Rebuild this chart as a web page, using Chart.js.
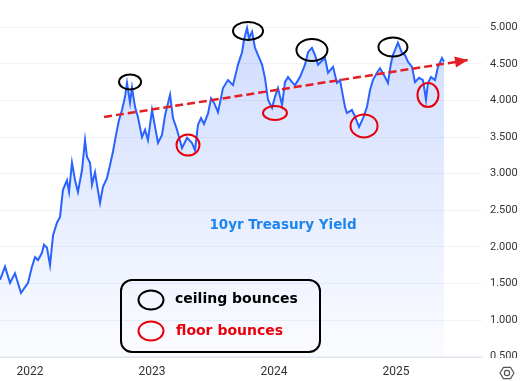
<!DOCTYPE html>
<html><head><meta charset="utf-8">
<script src="https://cdn.jsdelivr.net/npm/chart.js@4"></script>
<style>html,body{margin:0;padding:0;background:#fff}#wrap{width:525px;height:381px;position:relative}canvas{display:block}</style>
</head><body><div id="wrap"><canvas id="c" width="525" height="381"></canvas></div>
<script>
// ---- data (decimal years, yield %) ----
const dates = [2021.754,2021.795,2021.836,2021.877,2021.926,2021.959,2021.984,2022.016,2022.041,2022.066,2022.098,2022.115,2022.139,2022.164,2022.189,2022.221,2022.246,2022.270,2022.303,2022.320,2022.344,2022.369,2022.393,2022.426,2022.451,2022.467,2022.492,2022.508,2022.533,2022.549,2022.574,2022.598,2022.631,2022.656,2022.680,2022.705,2022.729,2022.754,2022.779,2022.795,2022.820,2022.836,2022.861,2022.885,2022.918,2022.943,2022.967,2023.000,2023.025,2023.049,2023.082,2023.107,2023.148,2023.172,2023.205,2023.246,2023.287,2023.328,2023.352,2023.377,2023.402,2023.426,2023.459,2023.484,2023.508,2023.541,2023.582,2023.623,2023.664,2023.705,2023.738,2023.754,2023.779,2023.795,2023.820,2023.844,2023.869,2023.902,2023.926,2023.951,2023.984,2024.008,2024.033,2024.066,2024.090,2024.115,2024.148,2024.172,2024.213,2024.254,2024.279,2024.311,2024.336,2024.361,2024.385,2024.418,2024.443,2024.484,2024.516,2024.541,2024.582,2024.598,2024.639,2024.664,2024.697,2024.730,2024.762,2024.787,2024.811,2024.844,2024.869,2024.910,2024.934,2024.959,2024.975,2025.016,2025.049,2025.074,2025.098,2025.131,2025.156,2025.189,2025.221,2025.246,2025.262,2025.287,2025.320,2025.344,2025.377,2025.393];
const yields = [1.55,1.73,1.51,1.64,1.37,1.45,1.51,1.73,1.86,1.82,1.92,2.03,1.99,1.75,2.16,2.33,2.41,2.78,2.91,2.75,3.15,2.91,2.75,3.05,3.46,3.23,3.15,2.85,3.02,2.85,2.60,2.82,2.94,3.12,3.30,3.53,3.73,3.87,4.05,4.24,3.97,4.18,3.91,3.77,3.50,3.60,3.46,3.87,3.64,3.42,3.53,3.80,4.08,3.76,3.60,3.35,3.49,3.42,3.32,3.67,3.76,3.68,3.82,4.03,3.97,3.84,4.17,4.28,4.21,4.49,4.66,4.83,4.99,4.85,4.94,4.72,4.62,4.49,4.31,4.01,3.90,4.05,4.17,3.94,4.25,4.32,4.25,4.21,4.32,4.49,4.66,4.72,4.62,4.49,4.53,4.58,4.38,4.46,4.24,4.28,3.91,3.83,3.87,3.78,3.64,3.76,3.91,4.14,4.28,4.38,4.44,4.32,4.24,4.51,4.62,4.79,4.65,4.62,4.53,4.46,4.25,4.31,4.28,4.01,4.24,4.32,4.28,4.46,4.58,4.53];
const trendDates = [2022.607, 2025.590];
const trendValues = [3.775, 4.553];
const ceilingDates = [2022.820, 2023.787, 2024.311, 2024.975];
const ceilingValues = [4.253, 4.950, 4.690, 4.731];
const floorDates = [2023.295, 2024.008, 2024.738, 2025.262];
const floorValues = [3.392, 3.829, 3.652, 4.075];
const xTickValues = [2022, 2023, 2024, 2025];
const xTickLabels = ['2022', '2023', '2024', '2025'];
const yTickValues = [0.5, 1, 1.5, 2, 2.5, 3, 3.5, 4, 4.5, 5];
const titleText = '10yr Treasury Yield';
const legendLabels = ['ceiling bounces', 'floor bounces'];

// ---- styling constants ----
const BLUE = '#2962ff', RED = '#e8000b', TREND_RED = '#e31e24';
const ceilingRadii = [[11,7.5],[15,9],[15.5,11],[14.5,9.5]];
const floorRadii = [[11.5,10.5],[12,7],[13.5,11.5],[10.5,12]];

const overlay = {
  id: 'overlay',
  afterDatasetsDraw(chart) {
    const {ctx, scales:{x, y}, chartArea} = chart;
    ctx.save();
    // arrow head at end of trend line
    const x0 = x.getPixelForValue(trendDates[0]), y0 = y.getPixelForValue(trendValues[0]);
    const x1 = x.getPixelForValue(trendDates[1]), y1 = y.getPixelForValue(trendValues[1]);
    const ang = Math.atan2(y1 - y0, x1 - x0);
    const L = 13, W = 5.5;
    ctx.fillStyle = TREND_RED;
    ctx.beginPath();
    ctx.moveTo(x1, y1);
    ctx.lineTo(x1 - L*Math.cos(ang) + W*Math.sin(ang), y1 - L*Math.sin(ang) - W*Math.cos(ang));
    ctx.lineTo(x1 - L*Math.cos(ang) - W*Math.sin(ang), y1 - L*Math.sin(ang) + W*Math.cos(ang));
    ctx.closePath(); ctx.fill();
    // ellipses
    ctx.lineWidth = 2;
    ctx.strokeStyle = '#000';
    ceilingDates.forEach((d, i) => {
      ctx.beginPath();
      ctx.ellipse(x.getPixelForValue(d), y.getPixelForValue(ceilingValues[i]), ceilingRadii[i][0], ceilingRadii[i][1], 0, 0, Math.PI*2);
      ctx.stroke();
    });
    ctx.strokeStyle = RED;
    floorDates.forEach((d, i) => {
      ctx.beginPath();
      ctx.ellipse(x.getPixelForValue(d), y.getPixelForValue(floorValues[i]), floorRadii[i][0], floorRadii[i][1], 0, 0, Math.PI*2);
      ctx.stroke();
    });
    // title
    ctx.font = 'bold 13.5px "DejaVu Sans"';
    ctx.fillStyle = '#1c86ee';
    ctx.textAlign = 'center'; ctx.textBaseline = 'middle';
    ctx.fillText(titleText, chartArea.left + 283, chartArea.top + 225);
    // legend box
    const bx = chartArea.left + 121, by = chartArea.top + 280, bw = 199, bh = 72;
    ctx.lineWidth = 2; ctx.strokeStyle = '#000';
    ctx.beginPath(); ctx.roundRect(bx, by, bw, bh, 11); ctx.stroke();
    ctx.lineWidth = 2;
    ctx.beginPath(); ctx.ellipse(bx + 30, by + 20, 12.5, 9.5, 0, 0, Math.PI*2); ctx.strokeStyle = '#000'; ctx.stroke();
    ctx.beginPath(); ctx.ellipse(bx + 30, by + 51, 12.5, 9.5, 0, 0, Math.PI*2); ctx.strokeStyle = RED; ctx.stroke();
    ctx.textAlign = 'left';
    ctx.font = 'bold 14px "DejaVu Sans"';
    ctx.fillStyle = '#000'; ctx.fillText(legendLabels[0], bx + 54, by + 19);
    ctx.fillStyle = RED; ctx.fillText(legendLabels[1], bx + 55, by + 51);
    ctx.restore();
  },
  afterDraw(chart) {
    const {ctx, chartArea} = chart;
    ctx.save();
    ctx.fillStyle = '#fff';
    ctx.fillRect(chartArea.right + 1, chartArea.bottom + 1, 60, 30);
    // settings icon
    const cx = chartArea.right + 25, cy = chartArea.bottom + 16;
    ctx.strokeStyle = '#555'; ctx.lineWidth = 1.2;
    ctx.beginPath();
    for (let k = 0; k < 6; k++) {
      const a = Math.PI/3*k;
      const px = cx + 7*Math.cos(a), py = cy + 6.5*Math.sin(a);
      k ? ctx.lineTo(px, py) : ctx.moveTo(px, py);
    }
    ctx.closePath(); ctx.stroke();
    ctx.beginPath(); ctx.arc(cx, cy, 2.6, 0, Math.PI*2); ctx.stroke();
    ctx.restore();
  }
};

const ctx = document.getElementById('c').getContext('2d');
new Chart(ctx, {
  type: 'line',
  data: {
    datasets: [
      {
        data: dates.map((d, i) => ({x: d, y: yields[i]})),
        borderColor: BLUE, borderWidth: 2, pointRadius: 0, tension: 0,
        fill: 'start',
        backgroundColor: (c) => {
          const {ctx, chartArea} = c.chart;
          if (!chartArea) return 'rgba(41,98,255,0.12)';
          const g = ctx.createLinearGradient(0, chartArea.top, 0, chartArea.bottom);
          g.addColorStop(0, 'rgba(41,98,255,0.24)');
          g.addColorStop(1, 'rgba(41,98,255,0.02)');
          return g;
        },
        order: 2
      },
      {
        data: trendDates.map((d, i) => ({x: d, y: trendValues[i]})),
        borderColor: TREND_RED, borderWidth: 2.5, borderDash: [8, 4],
        pointRadius: 0, fill: false, order: 1
      }
    ]
  },
  options: {
    responsive: false, animation: false,
    layout: {padding: 0},
    plugins: {legend: {display: false}, tooltip: {enabled: false}},
    scales: {
      x: {
        type: 'linear', min: 2021.754, max: 2025.705,
        grid: {display: false, drawTicks: false},
        border: {color: '#e0e3eb'},
        afterBuildTicks: s => { s.ticks = xTickValues.map(v => ({value: v})); },
        ticks: {
          callback: v => xTickLabels[xTickValues.indexOf(v)],
          color: '#333', font: {size: 12, family: 'Roboto'}, padding: 8,
          maxRotation: 0, autoSkip: false
        },
        afterFit: s => { s.height = 24; s.paddingLeft = 0; s.paddingRight = 0; }
      },
      y: {
        position: 'right', min: 0.496, max: 5.373,
        grid: {color: '#f0f2f7', drawTicks: false},
        border: {display: false},
        afterBuildTicks: s => { s.ticks = yTickValues.map(v => ({value: v})); },
        ticks: {
          callback: v => Number(v).toFixed(3),
          color: '#333', font: {size: 11, family: 'Roboto'}, padding: 8
        },
        afterFit: s => { s.width = 43; s.paddingTop = 0; s.paddingBottom = 0; }
      }
    }
  },
  plugins: [overlay]
});
</script>
</body></html>
